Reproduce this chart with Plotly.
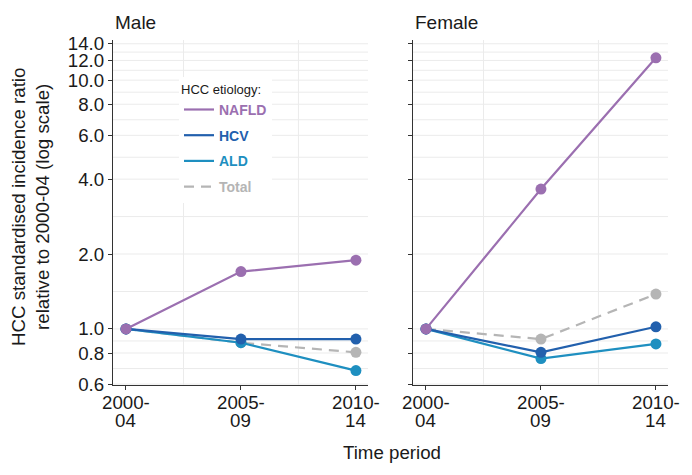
import numpy as np
import plotly.graph_objects as go

periods = ["2000-04", "2005-09", "2010-14"]
period_top = ["2000-", "2005-", "2010-"]
period_bottom = ["04", "09", "14"]

male_nafld = [1.0, 1.70, 1.89]
male_hcv = [1.0, 0.91, 0.91]
male_ald = [1.0, 0.88, 0.68]
male_total = [1.0, 0.88, 0.805]

female_nafld = [1.0, 3.65, 12.3]
female_hcv = [1.0, 0.805, 1.02]
female_ald = [1.0, 0.76, 0.87]
female_total = [1.0, 0.91, 1.38]

y_ticks = [0.6, 0.8, 1.0, 2.0, 4.0, 6.0, 8.0, 10.0, 12.0, 14.0]

colors = {"NAFLD": "#9B6FB0", "HCV": "#2260AD", "ALD": "#1E8FC0", "Total": "#B5B5B5"}
order = {"NAFLD": 1, "HCV": 2, "ALD": 3, "Total": 4}
FONT = "Liberation Sans, Arial, sans-serif"
FS = 18.7

# the page body has an 8px margin, so the figure is drawn 8px in from the window corner
OFF = 8
W, H = 692 - OFF, 475 - OFF


def px(x):
    return (x - OFF) / W


def py(y):
    return 1 - (y - OFF) / H


fig = go.Figure()

panels = [
    ("x", "y", {"NAFLD": male_nafld, "HCV": male_hcv, "ALD": male_ald, "Total": male_total}, True),
    ("x2", "y2", {"NAFLD": female_nafld, "HCV": female_hcv, "ALD": female_ald, "Total": female_total}, False),
]

xs = list(range(len(periods)))
for xa, ya, series, show in panels:
    for name in ["Total", "ALD", "HCV", "NAFLD"]:
        col = colors[name]
        dash = "10px,7px" if name == "Total" else "solid"
        fig.add_trace(go.Scatter(
            x=xs, y=series[name], mode="lines", xaxis=xa, yaxis=ya,
            line=dict(color=col, width=2.2, dash=dash),
            name="<b><span style='color:%s'>%s</span></b>" % (col, name),
            legendrank=order[name], legendgroup=name,
            showlegend=show, hoverinfo="skip"))
        fig.add_trace(go.Scatter(
            x=xs, y=series[name], mode="markers", xaxis=xa, yaxis=ya,
            marker=dict(color=col, size=11), legendgroup=name, showlegend=False))

# minor gridlines: geometric midpoints between the breaks
minor_y = [float(np.sqrt(a * b)) for a, b in zip(y_ticks[:-1], y_ticks[1:])]
grid = "#EBEBEB"
for xa, ya in [("x", "y"), ("x2", "y2")]:
    for v in y_ticks + minor_y:
        fig.add_shape(type="line", xref=xa + " domain", yref=ya, x0=0, x1=1, y0=v, y1=v,
                      line=dict(color=grid, width=1), layer="below")
    for v in [0.5, 1.5]:
        fig.add_shape(type="line", xref=xa, yref=ya + " domain", x0=v, x1=v, y0=0, y1=1,
                      line=dict(color=grid, width=1), layer="below")

xr = [-0.113, 2.105]
yr = [np.log10(0.595), np.log10(14.5)]
xd1 = [px(113), px(368)]
xd2 = [px(413), px(668)]
yd = [py(385), py(40)]

xcommon = dict(range=xr, tickvals=xs, ticktext=["" for p in periods], showgrid=False, zeroline=False,
               showline=True, linecolor="#333333", linewidth=1.3, ticks="outside", ticklen=4,
               tickcolor="#333333", automargin=False)
ycommon = dict(type="log", range=yr, tickvals=y_ticks, showgrid=False, zeroline=False,
               showline=True, linecolor="#333333", linewidth=1.3, ticks="outside", ticklen=4,
               tickcolor="#333333", automargin=False,
               tickfont=dict(size=FS, color="#1a1a1a", family=FONT))

annotations = [
    dict(text="Male", x=px(113), y=py(22), xref="paper", yref="paper",
         xanchor="left", yanchor="middle", showarrow=False, font=dict(size=19)),
    dict(text="Female", x=px(413), y=py(22), xref="paper", yref="paper",
         xanchor="left", yanchor="middle", showarrow=False, font=dict(size=19)),
    dict(text="Time period", x=px(392), y=py(452), xref="paper", yref="paper",
         xanchor="center", yanchor="middle", showarrow=False, font=dict(size=FS)),
    dict(text="HCC standardised incidence ratio<br>relative to 2000-04 (log scale)",
         x=px(30), y=py(207), xref="paper", yref="paper", textangle=-90,
         xanchor="center", yanchor="middle", showarrow=False, font=dict(size=FS)),
]
# two-line period labels under each x axis, with tight line spacing
for xa in ["x", "x2"]:
    for i, p in enumerate(periods):
        annotations.append(dict(text=period_top[i], x=xs[i], y=py(402), xref=xa, yref="paper",
                                xanchor="center", yanchor="middle", showarrow=False,
                                font=dict(size=FS)))
        annotations.append(dict(text=period_bottom[i], x=xs[i], y=py(420), xref=xa, yref="paper",
                                xanchor="center", yanchor="middle", showarrow=False,
                                font=dict(size=FS)))

fig.update_layout(
    width=W, height=H,
    margin=dict(l=0, r=0, t=0, b=0),
    plot_bgcolor="white", paper_bgcolor="white",
    font=dict(family=FONT, color="#1a1a1a"),
    xaxis=dict(domain=xd1, anchor="y", **xcommon),
    xaxis2=dict(domain=xd2, anchor="y2", **xcommon),
    yaxis=dict(domain=yd, anchor="x", ticktext=["%.1f" % v for v in y_ticks], **ycommon),
    yaxis2=dict(domain=yd, anchor="x2", ticktext=["" for v in y_ticks], **ycommon),
    legend=dict(x=px(179), y=py(77), xanchor="left", yanchor="top",
                bgcolor="white", font=dict(size=14, family=FONT),
                title=dict(text="HCC etiology:", font=dict(size=13, color="#1a1a1a", family=FONT)),
                traceorder="grouped", tracegroupgap=4.5, itemwidth=30),
    annotations=annotations,
)

fig.write_html("out.html")
